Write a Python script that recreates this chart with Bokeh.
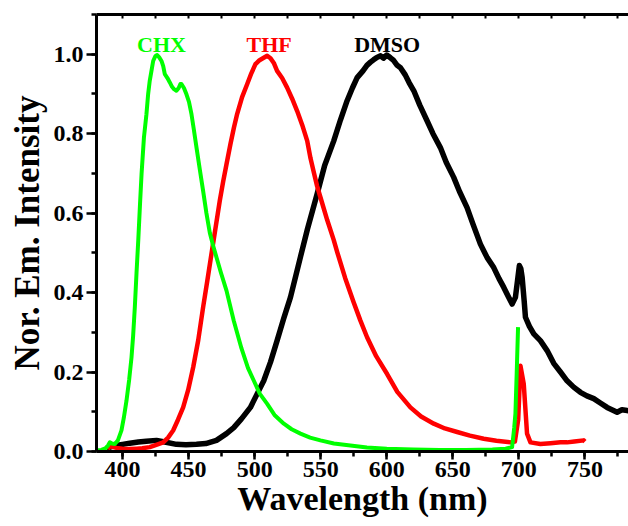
from bokeh.plotting import figure
from bokeh.models import (Range1d, LinearAxis, SingleIntervalTicker, PrintfTickFormatter,
                          ColumnDataSource, CustomJSTickFormatter)
from bokeh.core.properties import value
from bokeh.embed import file_html
from bokeh.resources import INLINE

# ---------------- data ----------------
chx_wl = [380, 384, 387, 389, 390.4, 392, 394.2, 396.5, 399.2, 401,
          403, 405, 406.8, 408, 409.3, 410.6, 411.9, 413.2, 414.4, 416.2,
          418.1, 419.4, 420.6, 422, 423.2, 424.8, 426.2, 427.8, 429.5, 430.8,
          432, 434, 435.8, 437.5, 439, 440.8, 442.5, 443.8, 444.6, 446.5,
          448.4, 450.3, 452.2, 454, 456, 458.5, 461, 463.5, 466.1, 468.6,
          471.1, 474.5, 478.7, 484.2, 490, 495, 499.4, 504, 509.5, 515,
          522.1, 528, 534.7, 542, 549.8, 560, 572.5, 585, 600, 620,
          640, 660, 680, 690, 694.9, 696.5, 697.4, 698.4, 699.4]
chx_int = [0.003, 0.004, 0.008, 0.015, 0.023, 0.020, 0.019, 0.028, 0.053, 0.085,
           0.128, 0.180, 0.237, 0.290, 0.363, 0.450, 0.531, 0.620, 0.698, 0.790,
           0.849, 0.900, 0.933, 0.960, 0.983, 0.995, 0.998, 0.992, 0.983, 0.970,
           0.950, 0.940, 0.929, 0.918, 0.912, 0.908, 0.915, 0.925, 0.925, 0.915,
           0.899, 0.880, 0.849, 0.810, 0.765, 0.710, 0.656, 0.600, 0.550, 0.518,
           0.489, 0.450, 0.405, 0.329, 0.260, 0.210, 0.178, 0.145, 0.120, 0.092,
           0.070, 0.056, 0.045, 0.035, 0.028, 0.020, 0.015, 0.010, 0.007, 0.005,
           0.004, 0.004, 0.005, 0.007, 0.011, 0.060, 0.095, 0.200, 0.313]

thf_wl = [389, 390.4, 392, 395.4, 400, 405, 410.6, 415, 420.6, 425,
          430.8, 434.5, 438.3, 442, 445.9, 449.7, 453.5, 457.3, 461, 464.2,
          467.3, 470.5, 473.6, 476.2, 478.7, 481.7, 484.3, 486.8, 490.5, 494.4,
          497.5, 500.6, 503.7, 506.9, 509.5, 512, 514.5, 517, 520.8, 524.6,
          528.4, 532.2, 536, 539.8, 542.3, 545, 547.3, 549.8, 555, 559.9,
          562.5, 568.5, 575, 580, 585.2, 592, 600.3, 608, 617.9, 626,
          635.6, 644, 653.3, 663, 673.4, 683, 693.6, 697, 699.5, 701.2,
          703.7, 706.2, 708.8, 716.3, 724, 731.5, 736.5, 742, 749.1, 750]
thf_int = [0.005, 0.019, 0.012, 0.009, 0.007, 0.006, 0.007, 0.008, 0.011, 0.016,
           0.023, 0.035, 0.053, 0.080, 0.111, 0.155, 0.212, 0.280, 0.363, 0.430,
           0.497, 0.565, 0.631, 0.680, 0.723, 0.774, 0.815, 0.850, 0.892, 0.925,
           0.952, 0.975, 0.985, 0.991, 0.996, 0.990, 0.978, 0.958, 0.940, 0.916,
           0.888, 0.857, 0.822, 0.782, 0.738, 0.700, 0.668, 0.640, 0.582, 0.532,
           0.502, 0.437, 0.375, 0.330, 0.287, 0.240, 0.195, 0.150, 0.111, 0.088,
           0.070, 0.058, 0.049, 0.040, 0.032, 0.027, 0.023, 0.025, 0.080, 0.216,
           0.170, 0.045, 0.023, 0.019, 0.021, 0.023, 0.023, 0.025, 0.028, 0.025]

dmso_wl = [388, 392, 395.4, 400, 405.5, 412, 418, 425.7, 432, 440.8,
           448, 456, 463, 471.1, 478.7, 484.2, 490, 496.8, 501.9, 506.9,
           512, 517, 522, 527.1, 531, 534.7, 540, 547.3, 553, 559.9,
           565, 570, 574, 577.6, 582, 585, 587.7, 590, 592.5, 595.3,
           597.5, 600, 602.8, 605, 607.9, 610.4, 614, 617, 620.5, 625,
           630.6, 635, 640.6, 645, 650.7, 655, 660.8, 665, 670.9, 676,
           681, 685, 688.6, 692, 694.9, 697.4, 699, 700.4, 701.5, 702.5,
           704, 705, 708, 711.3, 716.3, 721.4, 726.4, 731.5, 736.5, 741.5,
           746.6, 751.5, 756.7, 761.7, 766.8, 770, 774.4, 778, 782, 785]
dmso_int = [0.008, 0.013, 0.015, 0.018, 0.021, 0.024, 0.026, 0.028, 0.024, 0.018,
            0.017, 0.018, 0.020, 0.028, 0.045, 0.060, 0.082, 0.111, 0.145, 0.178,
            0.225, 0.279, 0.335, 0.388, 0.440, 0.490, 0.560, 0.648, 0.720, 0.782,
            0.835, 0.883, 0.915, 0.941, 0.958, 0.972, 0.980, 0.986, 0.992, 0.996,
            0.990, 0.998, 0.991, 0.985, 0.972, 0.966, 0.948, 0.928, 0.908, 0.872,
            0.832, 0.800, 0.765, 0.728, 0.690, 0.655, 0.614, 0.575, 0.522, 0.488,
            0.463, 0.435, 0.413, 0.390, 0.371, 0.388, 0.430, 0.468, 0.460, 0.438,
            0.380, 0.338, 0.315, 0.296, 0.279, 0.254, 0.222, 0.200, 0.178, 0.162,
            0.149, 0.140, 0.133, 0.122, 0.111, 0.106, 0.099, 0.105, 0.103, 0.101]

solvents = ["CHX", "THF", "DMSO"]
peak_wl = [429.5, 511, 600.3]

FONT = value("Liberation Serif")

p = figure(width=628, height=526, output_backend="svg", toolbar_location=None,
           x_range=Range1d(380.3, 783), y_range=Range1d(0, 1.1),
           min_border_left=96, min_border_right=0, min_border_top=14,
           min_border_bottom=75, background_fill_color="white",
           border_fill_color="white")
p.outline_line_color = None
p.grid.visible = False

# curves (black, red, green drawing order)
p.line(dmso_wl, dmso_int, line_color="black", line_width=5.5, line_join="round")
p.line(thf_wl, thf_int, line_color="#FF0000", line_width=4.5, line_join="round")
p.line(chx_wl, chx_int, line_color="#00FF00", line_width=4, line_join="round")

# labels
colors = ["#00FF00", "#FF0000", "black"]
src = ColumnDataSource(dict(x=peak_wl, y=[1.025] * 3, t=solvents, c=colors))
p.text(x="x", y="y", text="t", text_color="c", source=src,
       text_font=FONT, text_font_style="bold", text_font_size="22px",
       text_align="center", text_baseline="alphabetic")

# axes
xa = p.xaxis[0]
xa.ticker = SingleIntervalTicker(interval=50, num_minor_ticks=2)
xa.axis_label = "Wavelength (nm)"
ya = p.yaxis[0]
ya.ticker = SingleIntervalTicker(interval=0.2, num_minor_ticks=2)
ya.formatter = PrintfTickFormatter(format="%.1f")
ya.axis_label = "Nor. Em. Intensity"

for ax in (xa, ya):
    ax.axis_line_width = 3
    ax.axis_line_color = "black"
    ax.major_tick_line_width = 2.5
    ax.minor_tick_line_width = 2.5
    ax.major_tick_line_color = "black"
    ax.minor_tick_line_color = "black"
    ax.major_tick_in = 0
    ax.minor_tick_in = 0
    ax.major_label_text_font = "Liberation Serif"
    ax.major_label_text_font_style = "bold"
    ax.major_label_text_font_size = "24px"
    ax.major_label_text_color = "black"
    ax.axis_label_text_font = "Liberation Serif"
    ax.axis_label_text_font_style = "bold"
    ax.axis_label_text_font_size = "34px"
    ax.axis_label_text_color = "black"

xa.major_tick_out = 8
xa.minor_tick_out = 5
xa.major_label_standoff = 2
xa.axis_label_standoff = 0
ya.major_tick_out = 10
ya.minor_tick_out = 5
ya.major_label_standoff = 3
ya.axis_label_standoff = 4
ya.axis_label_text_font_size = "35px"

top = LinearAxis(ticker=SingleIntervalTicker(interval=25, num_minor_ticks=0),
                 formatter=CustomJSTickFormatter(code="return ''"))
top.axis_line_width = 3
top.major_tick_in = 4
top.major_tick_out = 0
top.major_tick_line_width = 2
top.major_label_standoff = 0
top.axis_label = None
p.add_layout(top, "above")

open("out.html", "w").write(file_html(p, INLINE))
